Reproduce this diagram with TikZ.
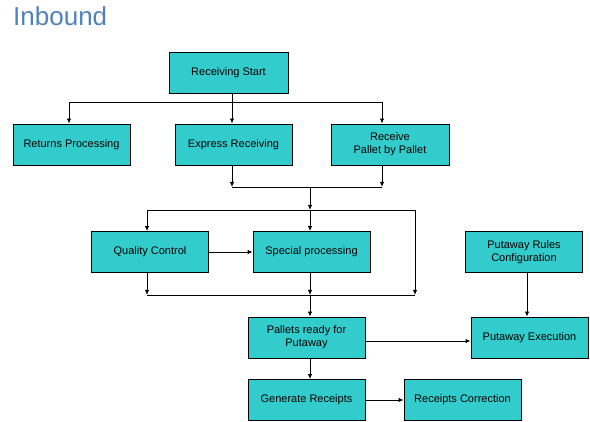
\documentclass[tikz,border=0pt]{standalone}
\usepackage{fontspec}
\setmainfont{Liberation Sans}
\usetikzlibrary{arrows.meta}
\definecolor{boxfill}{HTML}{33CCCC}
\definecolor{titleblue}{HTML}{4F81BD}
\begin{document}
\begin{tikzpicture}[x=1pt,y=-1pt,
  box/.style={draw=black, line width=0.9pt, fill=boxfill, minimum width=117pt, minimum height=41pt,
    align=center, font=\fontsize{11}{13}\selectfont, inner sep=0pt},
  conn/.style={line width=0.9pt, -{Latex[length=5pt,width=4.5pt]}},
  plain/.style={line width=0.9pt}]
\useasboundingbox (0,0) rectangle (590,422);
\node[anchor=west, text=titleblue, font=\fontsize{26}{30}\selectfont, inner sep=0pt] (title) at (13,16) {Inbound};

\node[box, minimum width=119pt] (rs) at (228.5,72.5) {Receiving Start};
\node[box] (rp) at (71.5,144.5) {Returns Processing};
\node[box] (er) at (233.5,144.5) {Express Receiving};
\node[box, minimum width=118pt] (rpp) at (390,144.5) {Receive\\Pallet by Pallet};
\node[box] (qc) at (150,252) {Quality Control};
\node[box] (sp) at (311.5,252) {Special processing};
\node[box] (prc) at (524,252) {Putaway Rules\\Configuration};
\node[box] (pr) at (306.5,337.5) {Pallets ready for\\Putaway};
\node[box] (pe) at (529.5,337.5) {Putaway Execution};
\node[box] (gr) at (306.5,400) {Generate Receipts};
\node[box] (rc) at (462.5,400) {Receipts Correction};

\coordinate (a1) at (69,102);
\coordinate (a2) at (232,102);
\coordinate (a3) at (382,102);
\coordinate (b1) at (232,187);
\coordinate (b2) at (310,187);
\coordinate (b3) at (382,187);
\coordinate (c1) at (147,210);
\coordinate (c2) at (310,210);
\coordinate (c3) at (415,210);
\coordinate (d1) at (147,295);
\coordinate (d2) at (310,295);
\coordinate (d3) at (415,295);
\coordinate (e) at (527,0);
\coordinate (f) at (0,341);

\draw[plain] (rs.south -| a2) -- (a2);
\draw[plain] (a1) -- (a3);
\draw[conn] (a1) -- (rp.north -| a1);
\draw[conn] (a2) -- (er.north -| a2);
\draw[conn] (a3) -- (rpp.north -| a3);

\draw[conn] (er.south -| b1) -- (b1);
\draw[conn] (rpp.south -| b3) -- (b3);
\draw[plain] (b1) -- (b3);
\draw[conn] (b2) -- (c2);

\draw[plain] (c1) -- (c3);
\draw[conn] (c1) -- (qc.north -| c1);
\draw[conn] (c2) -- (sp.north -| c2);
\draw[conn] (c3) -- (d3);

\draw[conn] (qc.east) -- (sp.west);

\draw[conn] (qc.south -| d1) -- (d1);
\draw[conn] (sp.south -| d2) -- (d2);
\draw[plain] (d1) -- (d3);
\draw[conn] (d2) -- (pr.north -| d2);

\draw[conn] (prc.south -| e) -- (pe.north -| e);
\draw[conn] (pr.east |- f) -- (pe.west |- f);
\draw[conn] (pr.south -| d2) -- (gr.north -| d2);
\draw[conn] (gr.east) -- (rc.west);
\end{tikzpicture}
\end{document}
